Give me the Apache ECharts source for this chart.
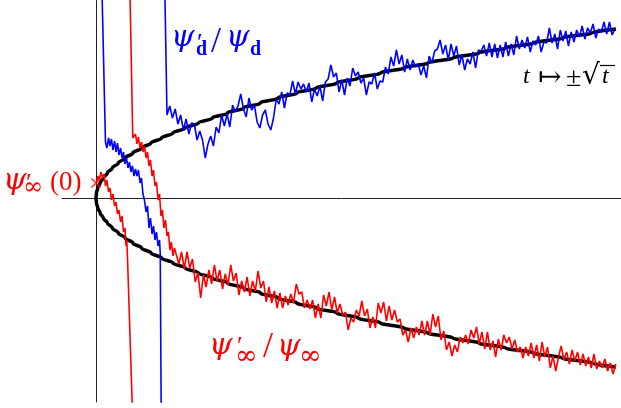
<!DOCTYPE html>
<html>
<head>
<meta charset="utf-8">
<script src="https://cdn.jsdelivr.net/npm/echarts/dist/echarts.min.js"></script>
<style>
html,body{margin:0;padding:0;background:#fff;}
#c{width:621px;height:408px;}
</style>
</head>
<body>
<div id="c"></div>
<script>
// ---- data (t on x, value on y; the black curve is t -> ±sqrt(t)) ----
const curveT    = [0, 0.25, 1, 2.25, 4, 6.25, 9, 12.25, 16, 20.25, 25, 30.25, 36, 42.25, 49, 56.25, 64, 72.25, 81, 90.25, 100, 110.25, 121, 132.25, 144, 156.25, 169, 182.25, 196, 210.25, 225, 240.25, 256, 272.25, 285.61];
const curveRoot = [0, 0.5, 1, 1.5, 2, 2.5, 3, 3.5, 4, 4.5, 5, 5.5, 6, 6.5, 7, 7.5, 8, 8.5, 9, 9.5, 10, 10.5, 11, 11.5, 12, 12.5, 13, 13.5, 14, 14.5, 15, 15.5, 16, 16.5, 16.9];

// blue psi_d'/psi_d, first branch (from +inf down to -inf)
const blueAT = [3.35, 5.2, 6.0, 6.9, 7.7, 8.5, 9.3, 10.2, 11.0, 11.8, 12.6, 13.5, 14.3, 15.1, 15.9, 16.8, 17.6, 18.4, 19.2, 20.0, 20.9, 21.7, 22.5, 23.3, 24.2, 25.0, 25.8, 26.6, 27.5, 28.3, 29.1, 29.9, 30.8, 31.6, 32.4, 33.2, 34.1, 34.9, 35.3, 35.8];
const blueAY = [20.3, 5.6, 5.0, 6.0, 5.2, 5.9, 4.8, 5.7, 4.6, 5.5, 4.3, 5.0, 4.0, 4.6, 3.4, 4.0, 3.0, 3.6, 2.6, 3.2, 2.2, 2.9, 2.2, 2.8, 1.5, 2.0, 0.4, -0.2, -1.4, -0.8, -3.0, -2.0, -3.6, -2.8, -4.2, -3.4, -4.8, -4.2, -5.6, -21.2];
// blue second branch: entry from +inf, then regular samples
const blueBLeadT = [37.7];
const blueBLeadY = [22];
const blueBStart = 39, blueBStep = 1.5;
const blueBY = [8.3, 9.2, 8.0, 8.9, 7.4, 8.3, 6.8, 7.9, 6.4, 7.5,
 7.4, 5.8, 6.7, 5.8, 4.0, 5.4, 6.2, 5.2, 7.1, 6.5,
 8.3, 7.2, 8.4, 7.1, 9.3, 8.6, 9.2, 10.4, 8.9, 8.1,
 10.0, 8.8, 9.3, 7.6, 7.0, 8.3, 8.8, 7.4, 6.8, 8.0,
 9.9, 9.4, 10.6, 9.0, 10.5, 10.3, 11.7, 10.4, 11.6, 10.9,
 11.4, 10.6, 11.5, 9.6, 10.9, 10.2, 11.2, 9.7, 11.6, 11.9,
 13.3, 12.1, 12.5, 10.6, 11.8, 10.3, 12.0, 11.2, 13.0, 12.2,
 12.6, 11.5, 12.0, 10.3, 11.6, 11.4, 12.5, 10.9, 11.7, 11.6,
 13.1, 12.4, 14.1, 13.2, 14.8, 13.4, 14.3, 12.6, 13.9, 12.8,
 13.8, 13.1, 13.4, 12.3, 13.2, 12.0, 14.2, 13.5, 14.7, 14.9,
 15.8, 14.4, 15.3, 13.8, 15.4, 14.2, 15.2, 13.3, 14.3, 12.8,
 13.9, 13.4, 14.6, 13.0, 14.8, 14.7, 15.3, 14.2, 15.5, 14.1,
 15.4, 14.0, 15.3, 14.1, 15.6, 14.2, 15.4, 14.3, 16.2, 14.9,
 15.8, 15.0, 16.1, 14.6, 15.7, 15.3, 16.2, 14.6, 15.6, 15.5,
 17.0, 15.5, 16.4, 14.9, 16.8, 15.7, 16.7, 15.2, 16.6, 15.6,
 16.8, 16.1, 17.2, 15.9, 17.0, 16.5, 17.4, 16.0, 16.9, 16.6,
 17.6, 16.4, 17.6, 16.3, 16.9];

// red psi_inf'/psi_inf, first branch (from psi_inf'(0) down to -inf)
const redAT = [0.3, 1.1, 1.9, 2.7, 3.6, 4.4, 5.2, 6.0, 6.9, 7.7, 8.5, 9.3, 10.2, 11.0, 11.8, 12.6, 13.5, 14.3, 15.1, 15.9, 16.5, 16.9, 17.3, 20.0];
const redAY = [1.6, 2.2, 1.8, 2.6, 2.0, 2.4, 1.2, 1.8, 0.6, 1.0, -0.2, 0.4, -0.8, -0.4, -1.6, -1.2, -2.4, -1.8, -3.4, -3.0, -4.8, -4.2, -6.0, -21.2];
// red second branch
const redBLeadT = [18.7, 20.2, 20.9, 21.7, 22.5, 23.3, 24.2, 25.0, 25.8, 26.6, 27.5, 28.3, 29.1, 29.9, 30.8, 31.6, 32.4, 33.2, 34.1, 34.9, 35.7, 36.5, 37.3, 38.2, 39.0, 39.8, 40.6, 41.4, 42.3, 43.1];
const redBLeadY = [20.3, 6.0, 5.8, 6.4, 5.4, 6.1, 5.0, 5.6, 4.6, 5.2, 4.0, 4.6, 3.2, 3.8, 2.2, 2.8, 1.2, 1.6, -0.2, 0.4, -1.8, -1.2, -3.0, -2.2, -3.8, -3.4, -5.2, -4.4, -5.8, -5.0];
const redBStart = 44, redBStep = 1.5;
const redBY = [-4.9, -6.6, -5.4, -7.1, -5.4, -7.0, -6.1, -8.4, -7.5, -10.0,
 -7.7, -8.9, -7.2, -8.6, -6.7, -8.3, -7.2, -9.1, -7.6, -8.7,
 -6.7, -8.3, -7.5, -9.7, -8.3, -9.4, -7.9, -9.8, -8.3, -9.3,
 -7.3, -9.0, -8.3, -10.4, -8.9, -10.5, -9.3, -11.0, -9.5, -11.0,
 -9.8, -10.7, -9.6, -10.5, -8.6, -9.6, -9.4, -11.0, -10.2, -11.1,
 -10.2, -12.0, -10.6, -12.0, -9.7, -10.8, -9.4, -11.2, -9.9, -11.5,
 -10.6, -11.7, -11.4, -13.2, -12.0, -12.4, -11.2, -11.8, -10.3, -11.8,
 -11.1, -13.0, -11.9, -13.0, -10.5, -11.5, -10.4, -12.3, -10.8, -12.2,
 -11.2, -12.4, -12.1, -13.7, -13.2, -14.4, -13.0, -14.0, -12.9, -13.7,
 -12.3, -13.7, -12.3, -13.7, -11.6, -12.9, -11.8, -14.2, -13.3, -15.2,
 -14.4, -15.8, -14.7, -15.4, -13.9, -14.5, -13.7, -14.6, -13.2, -14.0,
 -12.9, -14.6, -13.4, -15.1, -13.4, -15.2, -14.3, -15.9, -14.1, -15.2,
 -13.7, -14.5, -13.9, -15.1, -14.2, -15.4, -14.9, -16.0, -14.9, -15.8,
 -14.5, -16.0, -14.7, -16.3, -14.4, -15.9, -14.9, -17.0, -15.8, -17.3,
 -15.9, -14.8, -16.2, -15.4, -16.6, -15.2, -16.3, -15.4, -16.7, -15.6,
 -16.8, -15.9, -17.0, -15.6, -17.1, -16.3, -17.0, -16.1, -17.3, -16.5,
 -17.6, -16.6];

// the marked initial value psi_inf'(0)
const markT = [0];
const markY = [1.5];

// axis ranges
const tMin = -18.67, tMax = 288.35, yMin = -20.4, yMax = 19.8;

// ---- build series data ----
function pairs(ts, ys) { return ts.map(function (t, i) { return [t, ys[i]]; }); }
function regular(start, step, ys) { return ys.map(function (y, i) { return [start + i * step, y]; }); }

const curveData = [];
for (let i = curveT.length - 1; i >= 0; i--) curveData.push([curveT[i], curveRoot[i]]);
for (let i = 1; i < curveT.length; i++) curveData.push([curveT[i], -curveRoot[i]]);

const blueA = pairs(blueAT, blueAY);
const blueB = pairs(blueBLeadT, blueBLeadY).concat(regular(blueBStart, blueBStep, blueBY));
const redA = pairs(redAT, redAY);
const redB = pairs(redBLeadT, redBLeadY).concat(regular(redBStart, redBStep, redBY));

const BLUE = '#0000ff', RED = '#ff0000';
const SERIF = '"Liberation Serif","DejaVu Serif",serif';
const PSI = 'italic 30px "DejaVu Serif",serif';

function txt(x, y, s, font, color) {
  return { type: 'text', x: x, y: y, z: 100,
    style: { text: s, font: font, fill: color, textAlign: 'left', textVerticalAlign: 'middle' } };
}

const chart = echarts.init(document.getElementById('c'));
chart.setOption({
  animation: false,
  backgroundColor: '#fff',
  grid: { left: 62, right: 0, top: 0, bottom: 6 },
  xAxis: { type: 'value', min: tMin, max: tMax,
    axisLine: { show: true, onZero: true, lineStyle: { color: '#222', width: 1 } },
    axisTick: { show: false }, axisLabel: { show: false }, splitLine: { show: false } },
  yAxis: { type: 'value', min: yMin, max: yMax,
    axisLine: { show: true, onZero: true, lineStyle: { color: '#222', width: 1 } },
    axisTick: { show: false }, axisLabel: { show: false }, splitLine: { show: false } },
  series: [
    { type: 'line', data: curveData, showSymbol: false, smooth: 0.4, smoothMonotone: 'y',
      lineStyle: { color: '#000', width: 3.5 }, z: 2 },
    { type: 'line', data: blueA, showSymbol: false, lineStyle: { color: BLUE, width: 1.6 }, z: 3 },
    { type: 'line', data: blueB, showSymbol: false, lineStyle: { color: BLUE, width: 1.6 }, z: 3 },
    { type: 'line', data: redA, showSymbol: false, lineStyle: { color: RED, width: 1.6 }, z: 4 },
    { type: 'line', data: redB, showSymbol: false, lineStyle: { color: RED, width: 1.6 }, z: 4 },
    { type: 'scatter', data: pairs(markT, markY), symbol: 'path://M0,0L10,10M10,0L0,10', symbolSize: 9,
      itemStyle: { color: 'rgba(0,0,0,0)', borderColor: RED, borderWidth: 1.6 }, z: 5 }
  ],
  graphic: [
    // psi'_d / psi_d
    txt(171, 38, 'ψ', PSI, BLUE),
    txt(197, 44, '′', '26px ' + SERIF, BLUE),
    txt(196, 50, 'd', 'bold 20px ' + SERIF, BLUE),
    txt(211, 43, '/', '36px ' + SERIF, BLUE),
    txt(226, 38, 'ψ', PSI, BLUE),
    txt(250, 50, 'd', 'bold 20px ' + SERIF, BLUE),
    // psi'_inf / psi_inf
    txt(209, 346, 'ψ', PSI, RED),
    txt(237, 347, '′', '26px ' + SERIF, RED),
    txt(235, 357, '∞', '27px "DejaVu Serif",serif', RED),
    txt(263, 348, '/', '36px ' + SERIF, RED),
    txt(277, 347, 'ψ', PSI, RED),
    txt(299, 357, '∞', '27px "DejaVu Serif",serif', RED),
    // psi'_inf(0)
    txt(3, 181, 'ψ', PSI, RED),
    txt(26, 184, '′', '26px ' + SERIF, RED),
    txt(23, 188, '∞', '24px "DejaVu Serif",serif', RED),
    txt(50, 183, '(0)', '27px ' + SERIF, RED),
    // t -> ±sqrt(t)
    txt(523, 77, 't', 'italic 24px ' + SERIF, '#000'),
    txt(538, 79, '↦', '28px "DejaVu Serif",serif', '#000'),
    txt(566, 79, '±', '28px ' + SERIF, '#000'),
    txt(582, 77, '√', '28px "DejaVu Serif",serif', '#000'),
    txt(602, 77, 't', 'italic 24px ' + SERIF, '#000'),
    { type: 'line', z: 100, shape: { x1: 600, y1: 65.5, x2: 615, y2: 65.5 }, style: { stroke: '#000', lineWidth: 1.2 } }
  ]
});
</script>
</body>
</html>
